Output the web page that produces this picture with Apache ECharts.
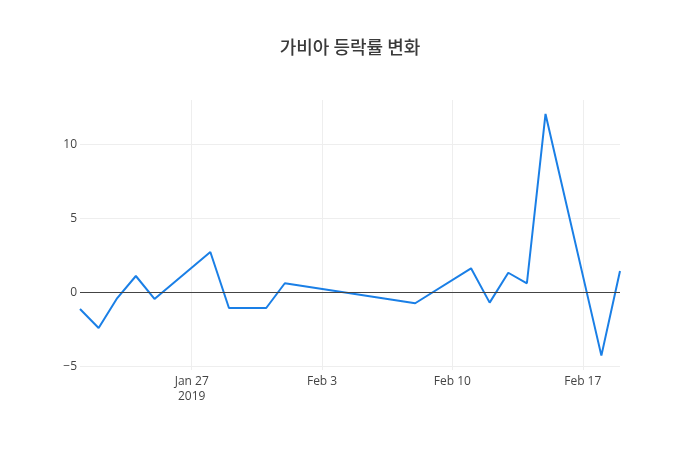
<!DOCTYPE html>
<html>
<head>
<meta charset="utf-8">
<script src="https://cdn.jsdelivr.net/npm/echarts@6/dist/echarts.min.js"></script>
<style>html,body{margin:0;padding:0;background:#fff;}#c{width:700px;height:450px;}</style>
</head>
<body>
<div id="c"></div>
<script>
const titleText = '가비아 등락률 변화';
const dates = ['2019-01-21','2019-01-22','2019-01-23','2019-01-24','2019-01-25','2019-01-28','2019-01-29','2019-01-31','2019-02-01','2019-02-08','2019-02-11','2019-02-12','2019-02-13','2019-02-14','2019-02-15','2019-02-18','2019-02-19'];
const changes = [-1.13,-2.41,-0.39,1.10,-0.45,2.72,-1.06,-1.06,0.61,-0.74,1.62,-0.70,1.32,0.61,12.05,-4.28,1.44];
const xRange = ['2019-01-21','2019-02-19'];
const yRange = [-5.25, 12.99];
const monthNames = ['Jan','Feb','Mar','Apr','May','Jun','Jul','Aug','Sep','Oct','Nov','Dec'];

const DAY = 86400000;
const anchor = Date.UTC(2019,0,27); // a Sunday, weekly ticks fall on Sundays
function toDay(s){ const p = s.split('-').map(Number); return Math.round((Date.UTC(p[0],p[1]-1,p[2]) - anchor)/DAY); }
const seriesData = dates.map((d,i)=>[toDay(d), changes[i]]);

const chart = echarts.init(document.getElementById('c'), null, {renderer:'canvas'});
const font = '"Open Sans", verdana, arial, sans-serif';
chart.setOption({
  animation:false,
  backgroundColor:'#fff',
  textStyle:{fontFamily:font},
  title:{
    text:titleText, left:'center', top:33,
    textStyle:{fontFamily:'"Noto Sans CJK KR","Open Sans",sans-serif', fontSize:18, fontWeight:500, color:'#3a3a3a'}
  },
  grid:{left:80, right:80, top:100, bottom:80, containLabel:false},
  xAxis:{
    type:'value', min:toDay(xRange[0]), max:toDay(xRange[1]),
    splitNumber:4, minInterval:7, maxInterval:7,
    axisLine:{show:false}, axisTick:{show:false},
    axisLabel:{
      showMinLabel:false, showMaxLabel:false, color:'#444', fontSize:12, fontFamily:font, margin:4, lineHeight:15,
      formatter:function(v){
        if (Math.round(v) % 7 !== 0) return '';
        const d = new Date(anchor + v*DAY);
        let s = monthNames[d.getUTCMonth()] + ' ' + d.getUTCDate();
        if (v === 0) s += '\n' + d.getUTCFullYear();
        return s;
      }
    },
    splitLine:{show:true, showMinLine:false, showMaxLine:false, lineStyle:{color:'#eeeeee', width:1}}
  },
  yAxis:{
    type:'value', min:yRange[0], max:yRange[1],
    splitNumber:4, minInterval:5, maxInterval:5,
    axisLine:{show:false}, axisTick:{show:false},
    axisLabel:{
      showMinLabel:false, showMaxLabel:false, color:'#444', fontSize:12, fontFamily:font, margin:3,
      formatter:function(v){ if (Math.abs(v % 5) > 1e-9) return ''; return String(v).replace('-', '\u2212'); }
    },
    splitLine:{show:true, showMinLine:false, showMaxLine:false, lineStyle:{color:'#eeeeee', width:1}}
  },
  series:[{
    type:'line', data:seriesData, showSymbol:false, symbol:'none',
    lineStyle:{color:'#1a7fe6', width:2}, itemStyle:{color:'#1a7fe6'},
    markLine:{
      silent:true, symbol:['none','none'], label:{show:false},
      lineStyle:{color:'#444', width:1, type:'solid'},
      data:[{yAxis:0}]
    },
    z:3
  }]
});
</script>
</body>
</html>
